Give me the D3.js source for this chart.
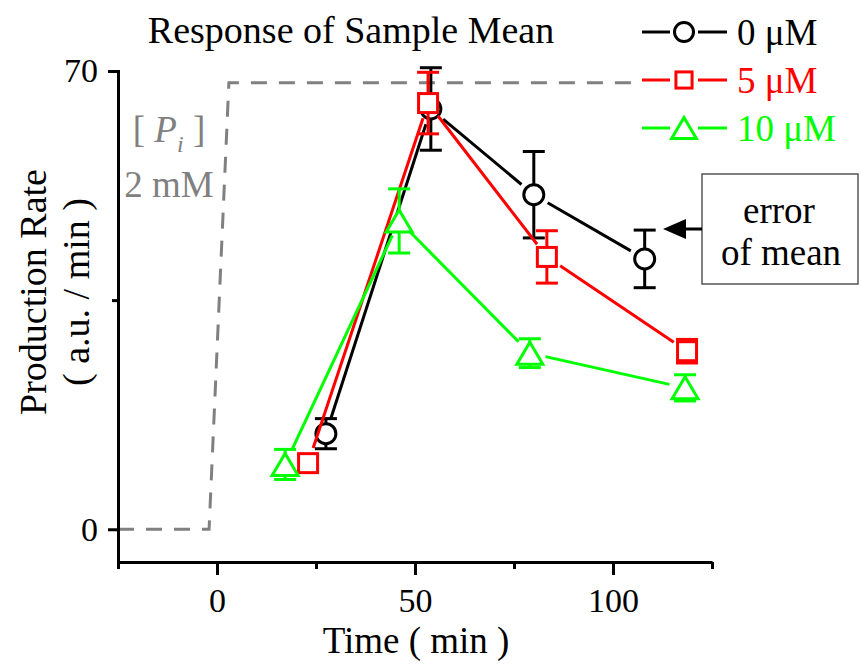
<!DOCTYPE html>
<html>
<head>
<meta charset="utf-8">
<script src="https://cdn.jsdelivr.net/npm/d3@7"></script>
<style>
  html, body { margin: 0; padding: 0; background: #fff; }
  svg { display: block; font-family: "Liberation Serif", "Times New Roman", serif; }
</style>
</head>
<body>
<svg id="chart" width="863" height="665"></svg>
<script>
// ---------------- data ----------------
const seriesNames = ["0 \u03bcM", "5 \u03bcM", "10 \u03bcM"];
const seriesColors = ["#000000", "#ff0000", "#00ff00"];
const seriesShapes = ["circle", "square", "triangle"];

const time0 = [27.5, 54.0, 80.0, 108.0];
const rate0 = [14.6, 64.2, 51.1, 41.3];
const err0  = [2.3, 6.3, 6.6, 4.4];

const time5 = [23.0, 53.3, 83.3, 118.7];
const rate5 = [10.1, 65.1, 41.6, 27.2];
const err5  = [1.2, 4.7, 4.0, 1.8];

const time10 = [17.2, 46.0, 79.0, 118.2];
const rate10 = [9.9, 47.1, 26.9, 21.6];
const err10  = [2.3, 4.9, 2.2, 2.0];

// stimulus step ([Pi] 2 mM)
const stepTime  = [-25, -2, 3, 125];
const stepLevel = [0, 0, 68.2, 68.2];

const xMajorTicks = [0, 50, 100];
const xMinorTicks = [-25, 25, 75, 125];
const yMajorTicks = [0, 70];
const yMinorTicks = [35];

const series = [
  { t: time0,  v: rate0,  e: err0 },
  { t: time5,  v: rate5,  e: err5 },
  { t: time10, v: rate10, e: err10 }
];

// ---------------- layout ----------------
const svg = d3.select("#chart");
const x = d3.scaleLinear().domain([-25, 125]).range([118, 712]);
const y = d3.scaleLinear().domain([-5, 70]).range([562, 71]);
const FONT = 34;
const SERIF = "'Liberation Serif', 'Times New Roman', serif";

// stimulus dashed line
const stepData = stepTime.map((t, i) => [t, stepLevel[i]]);
svg.append("path")
  .datum(stepData)
  .attr("d", d3.line().x(d => x(d[0])).y(d => y(d[1])))
  .attr("fill", "none")
  .attr("stroke", "#808080")
  .attr("stroke-width", 3)
  .attr("stroke-dasharray", "16,12");

// axes
function styleAxis(g, fs) {
  g.attr("font-family", SERIF);
  g.selectAll("path").attr("stroke", "#000").attr("stroke-width", 3);
  g.selectAll("line").attr("stroke", "#000").attr("stroke-width", 3);
  g.selectAll("text").attr("fill", "#000").attr("font-size", fs).attr("font-family", SERIF);
}

const gxMinor = svg.append("g").attr("transform", `translate(0,${y(-5)})`)
  .call(d3.axisBottom(x).tickValues(xMinorTicks).tickSize(7).tickSizeOuter(0).tickFormat(""));
gxMinor.select("path").remove();
styleAxis(gxMinor, FONT);

const gx = svg.append("g").attr("transform", `translate(0,${y(-5)})`)
  .call(d3.axisBottom(x).tickValues(xMajorTicks).tickSize(13).tickSizeOuter(0).tickFormat(d3.format("d")));
styleAxis(gx, FONT);
gx.selectAll("text").attr("dy", null).attr("y", 50);

const gyMinor = svg.append("g").attr("transform", `translate(${x(-25)},0)`)
  .call(d3.axisLeft(y).tickValues(yMinorTicks).tickSize(6).tickSizeOuter(0).tickFormat(""));
gyMinor.select("path").remove();
styleAxis(gyMinor, FONT);

const gy = svg.append("g").attr("transform", `translate(${x(-25)},0)`)
  .call(d3.axisLeft(y).tickValues(yMajorTicks).tickSize(10).tickSizeOuter(0).tickFormat(d3.format("d")));
styleAxis(gy, FONT);
gy.selectAll("text").attr("x", -20);
gy.select("path").attr("stroke-linecap", "square");

// axis titles
svg.append("text")
  .attr("x", 416).attr("y", 653)
  .attr("text-anchor", "middle")
  .attr("font-size", 37)
  .text("Time ( min )");

const yl = svg.append("g").attr("transform", "translate(46,292) rotate(-90)");
yl.append("text").attr("x", 0).attr("y", 0).attr("text-anchor", "middle")
  .attr("font-size", 38).text("Production Rate");
yl.append("text").attr("x", 0).attr("y", 43).attr("text-anchor", "middle")
  .attr("font-size", 38).text("( a.u. / min )");

// chart title
svg.append("text")
  .attr("x", 351).attr("y", 43)
  .attr("text-anchor", "middle")
  .attr("font-size", 38)
  .text("Response of Sample Mean");

// [Pi] annotation
const pi = svg.append("text")
  .attr("x", 169).attr("y", 142)
  .attr("text-anchor", "middle")
  .attr("font-size", 37)
  .attr("fill", "#808080");
pi.append("tspan").text("[ ");
pi.append("tspan").attr("font-style", "italic").text("P");
pi.append("tspan").attr("font-style", "italic").attr("font-size", 24).attr("dy", 10).text("i");
pi.append("tspan").attr("dy", -10).text(" ]");

svg.append("text")
  .attr("x", 169).attr("y", 197)
  .attr("text-anchor", "middle")
  .attr("font-size", 37)
  .attr("fill", "#808080")
  .text("2 mM");

// ---------------- markers ----------------
function drawMarker(g, shape, cx, cy, color, size) {
  if (shape === "circle") {
    g.append("circle").attr("cx", cx).attr("cy", cy).attr("r", size * 0.5)
      .attr("fill", "#fff").attr("stroke", color).attr("stroke-width", 3);
  } else if (shape === "square") {
    const s = size * 0.95;
    g.append("rect").attr("x", cx - s / 2).attr("y", cy - s / 2)
      .attr("width", s).attr("height", s)
      .attr("fill", "#fff").attr("stroke", color).attr("stroke-width", 3);
  } else {
    const w = size * 1.3, h = size * 1.1;
    g.append("path")
      .attr("d", `M${cx},${cy - h / 2}L${cx + w / 2},${cy + h / 2}L${cx - w / 2},${cy + h / 2}Z`)
      .attr("fill", "#fff").attr("stroke", color).attr("stroke-width", 3)
      .attr("stroke-linejoin", "miter");
  }
}

const GAP = 16;
const CAP = 11;
series.forEach((s, si) => {
  const color = seriesColors[si];
  const g = svg.append("g");
  const pts = s.t.map((t, i) => [x(t), y(s.v[i])]);
  // connecting lines with gaps at markers
  for (let i = 0; i < pts.length - 1; i++) {
    const [x1, y1] = pts[i], [x2, y2] = pts[i + 1];
    const dx = x2 - x1, dy = y2 - y1, L = Math.hypot(dx, dy);
    const ux = dx / L, uy = dy / L;
    g.append("line")
      .attr("x1", x1 + ux * GAP).attr("y1", y1 + uy * GAP)
      .attr("x2", x2 - ux * GAP).attr("y2", y2 - uy * GAP)
      .attr("stroke", color).attr("stroke-width", 3);
  }
  // error bars
  s.t.forEach((t, i) => {
    const cx = x(t), yt = y(s.v[i] + s.e[i]), yb = y(s.v[i] - s.e[i]);
    g.append("line").attr("x1", cx).attr("x2", cx).attr("y1", yt).attr("y2", yb)
      .attr("stroke", color).attr("stroke-width", 3);
    [yt, yb].forEach(yy => g.append("line")
      .attr("x1", cx - CAP).attr("x2", cx + CAP).attr("y1", yy).attr("y2", yy)
      .attr("stroke", color).attr("stroke-width", 3));
  });
  // markers
  pts.forEach(([cx, cy]) => drawMarker(g, seriesShapes[si], cx, cy, color, 20));
});

// ---------------- legend ----------------
svg.append("rect").attr("x", 632).attr("y", 0).attr("width", 231).attr("height", 152)
  .attr("fill", "#fff");
const legY = [32, 80, 128];
seriesNames.forEach((name, i) => {
  const color = seriesColors[i];
  const g = svg.append("g");
  g.append("line").attr("x1", 642).attr("x2", 670).attr("y1", legY[i]).attr("y2", legY[i])
    .attr("stroke", color).attr("stroke-width", 3);
  g.append("line").attr("x1", 698).attr("x2", 727).attr("y1", legY[i]).attr("y2", legY[i])
    .attr("stroke", color).attr("stroke-width", 3);
  drawMarker(g, seriesShapes[i], 684, legY[i], color, i === 1 ? 17 : 19);
  g.append("text").attr("x", 737).attr("y", legY[i] + 13)
    .attr("font-size", 37).attr("fill", color).text(name);
});

// ---------------- "error of mean" callout ----------------
svg.append("rect")
  .attr("x", 702).attr("y", 174).attr("width", 156).attr("height", 110)
  .attr("fill", "#fff").attr("stroke", "#555").attr("stroke-width", 1.5);
svg.append("text").attr("x", 779).attr("y", 223).attr("text-anchor", "middle")
  .attr("font-size", 37).text("error");
svg.append("text").attr("x", 781).attr("y", 265).attr("text-anchor", "middle")
  .attr("font-size", 37).text("of mean");
svg.append("line").attr("x1", 702).attr("x2", 684).attr("y1", 229).attr("y2", 229)
  .attr("stroke", "#000").attr("stroke-width", 3);
svg.append("path").attr("d", "M663,229L686,219L686,239Z").attr("fill", "#000");
</script>
</body>
</html>
